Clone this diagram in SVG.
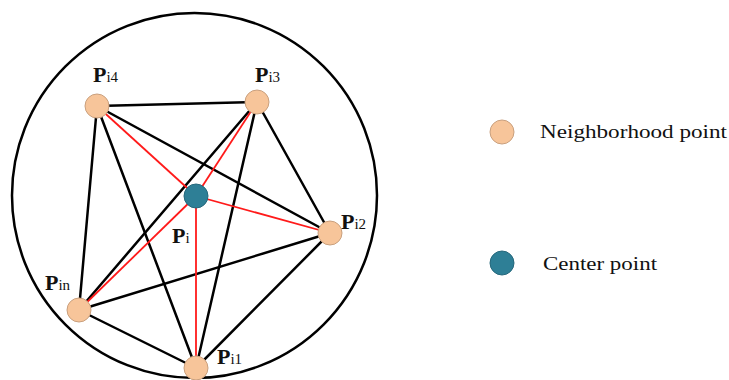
<svg xmlns="http://www.w3.org/2000/svg" width="729" height="380" viewBox="0 0 729 380">
<style>
.k{stroke:#000;stroke-width:2.5;fill:none;stroke-linecap:round}
.r{stroke:#ff1a1a;stroke-width:1.8;fill:none}
.nb{fill:#F7C59A;stroke:#C9A07E;stroke-width:1}
.ct{fill:#2E7F96;stroke:#26687c;stroke-width:1}
.lb{font-family:"Liberation Serif",serif;font-weight:bold;font-size:22px;fill:#111}
.sb{font-size:15px;font-weight:normal}
.lg{font-family:"Liberation Serif",serif;font-size:19px;fill:#111}
</style>
<rect width="729" height="380" fill="#fff"/>
<circle cx="194.5" cy="195.5" r="182.5" fill="none" stroke="#000" stroke-width="2.5"/>
<g id="connectors">
<line class="k" x1="97" y1="106" x2="257" y2="102"/>
<line class="k" x1="97" y1="106" x2="79" y2="310"/>
<line class="k" x1="97" y1="106" x2="196" y2="368"/>
<line class="k" x1="97" y1="106" x2="330" y2="233"/>
<line class="k" x1="257" y1="102" x2="79" y2="310"/>
<line class="k" x1="257" y1="102" x2="196" y2="368"/>
<line class="k" x1="257" y1="102" x2="330" y2="233"/>
<line class="k" x1="330" y1="233" x2="79" y2="310"/>
<line class="k" x1="330" y1="233" x2="196" y2="368"/>
<line class="k" x1="79" y1="310" x2="196" y2="368"/>
<line class="r" x1="196" y1="196" x2="97" y2="106"/>
<line class="r" x1="196" y1="196" x2="257" y2="102"/>
<line class="r" x1="196" y1="196" x2="330" y2="233"/>
<line class="r" x1="196" y1="196" x2="79" y2="310"/>
<line class="r" x1="196" y1="196" x2="196" y2="368"/>
</g>
<g id="Pi4"><circle class="nb" cx="97" cy="106" r="12"/><text class="lb" x="93" y="82">P<tspan class="sb">i4</tspan></text></g>
<g id="Pi3"><circle class="nb" cx="257" cy="102" r="12"/><text class="lb" x="255" y="82">P<tspan class="sb">i3</tspan></text></g>
<g id="Pi2"><circle class="nb" cx="330" cy="233" r="12"/><text class="lb" x="341" y="229">P<tspan class="sb">i2</tspan></text></g>
<g id="Pin"><circle class="nb" cx="79" cy="310" r="12"/><text class="lb" x="45" y="290">P<tspan class="sb">in</tspan></text></g>
<g id="Pi1"><circle class="nb" cx="196" cy="368" r="12"/><text class="lb" x="217" y="364">P<tspan class="sb">i1</tspan></text></g>
<g id="Pi"><circle class="ct" cx="196" cy="196" r="12"/><text class="lb" x="172" y="243">P<tspan class="sb">i</tspan></text></g>
<g id="legend-neighborhood"><circle class="nb" cx="502" cy="132" r="12"/><text class="lg" x="540" y="138" textLength="187" lengthAdjust="spacingAndGlyphs">Neighborhood point</text></g>
<g id="legend-center"><circle class="ct" cx="502" cy="263" r="12"/><text class="lg" x="543" y="270" textLength="114" lengthAdjust="spacingAndGlyphs">Center point</text></g>
</svg>
